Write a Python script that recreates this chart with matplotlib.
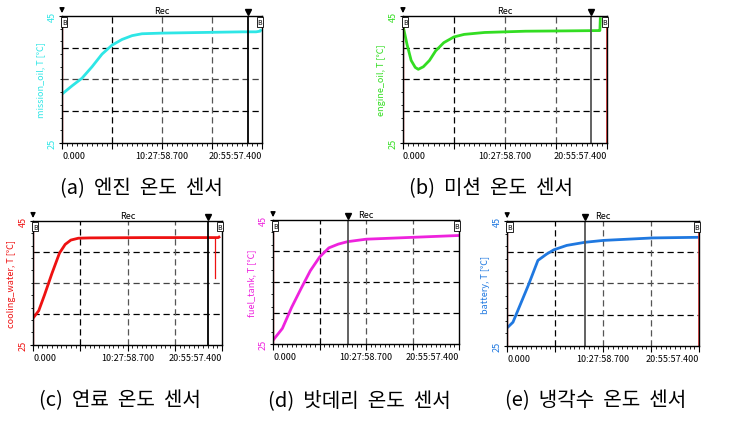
import matplotlib.pyplot as plt
from matplotlib.ticker import FixedLocator, FuncFormatter, AutoMinorLocator

plt.rcParams['font.family'] = ['Noto Sans CJK KR', 'DejaVu Sans']

# 전체 기록 시간 (초) : 20:55:57.400
T_END = 75357.4

# 센서 데이터 (시간: 시간 단위, 온도: 섭씨)
t_mission = [0, 1.05, 2.09, 3.14, 4.19, 5.23, 6.28, 7.33, 8.37, 10.47, 14.65, 18.84, 20.30, 20.72, 20.85]
T_mission = [32.7, 34.0, 35.2, 37.0, 39.0, 40.4, 41.3, 41.9, 42.2, 42.3, 42.4, 42.5, 42.5, 42.6, 42.9]

t_engine = [0, 0.42, 0.84, 1.26, 1.57, 2.09, 2.72, 3.35, 4.19, 5.23, 6.28, 8.37, 12.56, 16.74, 20.09, 20.20, 20.25]
T_engine = [43.5, 40.5, 38.0, 36.9, 36.6, 37.0, 38.0, 39.5, 40.8, 41.7, 42.1, 42.4, 42.6, 42.65, 42.7, 42.7, 44.8]

t_cooling = [0, 0.63, 1.26, 2.09, 2.93, 3.56, 4.19, 5.02, 6.28, 12.56, 20.09, 20.51, 20.72]
T_cooling = [29.3, 30.5, 33.0, 36.5, 39.8, 41.2, 41.9, 42.2, 42.25, 42.3, 42.3, 42.3, 42.5]
t_cooling_dip = [20.15, 20.15]
T_cooling_dip = [42.3, 35.7]

t_fuel = [0, 1.05, 2.09, 3.14, 4.19, 5.23, 6.28, 7.33, 8.37, 10.47, 15.70, 20.93]
T_fuel = [25.6, 27.5, 30.9, 33.9, 36.8, 39.0, 40.5, 41.1, 41.5, 41.9, 42.2, 42.5]

t_battery = [0, 0.63, 2.30, 3.35, 4.29, 5.09, 6.49, 8.48, 10.47, 15.91, 20.93]
T_battery = [27.9, 28.8, 34.7, 38.7, 39.7, 40.4, 41.1, 41.6, 41.9, 42.3, 42.4]

names = ['mission_oil, T [℃]', 'engine_oil, T [℃]', 'cooling_water, T [℃]', 'fuel_tank, T [℃]', 'battery, T [℃]']
colors = ['#2ee6e6', '#33dd22', '#ee1111', '#ee22dd', '#1f78e0']
captions = ['(a)  엔진  온도  센서', '(b)  미션  온도  센서', '(c)  연료  온도  센서',
            '(d)  밧데리  온도  센서', '(e)  냉각수  온도  센서']
cursor_pos = [0.93, 0.92, 0.924, 0.404, 0.405]
cursor_col = ['black', '#555555', 'black', '#555555', '#555555']

series = [(t_mission, T_mission), (t_engine, T_engine), (t_cooling, T_cooling),
          (t_fuel, T_fuel), (t_battery, T_battery)]

# [left, bottom, width, height]
boxes = [[0.0845, 0.669, 0.2725, 0.292],
         [0.549, 0.669, 0.278, 0.292],
         [0.045, 0.205, 0.2575, 0.285],
         [0.372, 0.207, 0.2534, 0.285],
         [0.691, 0.2025, 0.2616, 0.287]]
cap_xy = [(0.193, 0.566), (0.669, 0.566), (0.163, 0.08), (0.489, 0.08), (0.811, 0.08)]


def fmt_time(s, pos):
    if s < 1:
        return '0.000'
    h = int(s // 3600)
    m = int((s % 3600) // 60)
    sec = s - h * 3600 - m * 60
    return f'{h}:{m:02d}:{sec:06.3f}'


fig = plt.figure(figsize=(7.34, 4.35), dpi=100)

for i in range(5):
    ax = fig.add_axes(boxes[i])
    t, v = series[i]
    ax.plot([x * 3600 for x in t], v, color=colors[i], lw=2.0, solid_capstyle='butt')
    if i == 2:
        ax.plot([x * 3600 for x in t_cooling_dip], T_cooling_dip, color=colors[i], lw=0.9)
    ax.set_xlim(0, T_END)
    ax.set_ylim(25, 45)

    # 격자선
    for k, y in enumerate([30, 35, 40]):
        ax.axhline(y, color='black' if k != 1 or i % 2 else '#444444', lw=0.9, ls=(0, (5, 3)), zorder=0)
    for k, f in enumerate([0.25, 0.5, 0.75]):
        ax.axvline(f * T_END, color='black' if k == 0 else '#555555', lw=0.9, ls=(0, (5, 3)), zorder=0)

    # 커서
    cx = cursor_pos[i] * T_END
    ax.axvline(cx, color=cursor_col[i], lw=1.3)
    ax.plot([cx], [45.6], marker='v', color='black', ms=5, clip_on=False)
    ax.axvline(0, color='#ee3333', lw=1.0)
    if i in (1, 4):
        ax.axvline(T_END, color='#ee3333', lw=1.2)

    # 축 설정
    ax.xaxis.set_major_locator(FixedLocator([0, 0.25 * T_END, 0.5 * T_END, 0.75 * T_END, T_END]))
    ax.xaxis.set_major_formatter(FuncFormatter(lambda s, p: '' if p in (1, 3) else fmt_time(s, p)))
    ax.xaxis.set_minor_locator(AutoMinorLocator(10))
    ax.tick_params(axis='x', which='major', length=4, labelsize=6.5, pad=2)
    ax.tick_params(axis='x', which='minor', length=2)
    labs = ax.get_xticklabels()
    labs[0].set_ha('left')
    labs[-1].set_ha('right')

    ax.set_yticks([25, 45])
    ax.set_yticklabels(['25', '45'], rotation=90, va='center', color=colors[i], fontsize=6.5)
    ax.yaxis.set_minor_locator(AutoMinorLocator(10))
    ax.tick_params(axis='y', which='major', length=2, pad=2)
    ax.tick_params(axis='y', which='minor', length=1.5)
    ax.set_ylabel(names[i], color=colors[i], fontsize=6.5, labelpad=2)

    ax.set_title('Rec', fontsize=6.5, pad=2)
    for sp in ax.spines.values():
        sp.set_linewidth(1.0)

    # 모서리 표시
    ax.text(0.0, 0.985, 'B', transform=ax.transAxes, fontsize=5, ha='left', va='top',
            bbox=dict(boxstyle='square,pad=0.1', fc='white', ec='black', lw=0.6))
    ax.text(1.0, 0.985, 'B', transform=ax.transAxes, fontsize=5, ha='right', va='top',
            bbox=dict(boxstyle='square,pad=0.1', fc='white', ec='black', lw=0.6))
    ax.annotate('', xy=(0, 1.0), xytext=(0, 1.08), xycoords='axes fraction',
                arrowprops=dict(arrowstyle='-|>', color='black', lw=1.0, mutation_scale=7))

    fig.text(cap_xy[i][0], cap_xy[i][1], captions[i], ha='center', va='center', fontsize=14.5)

plt.savefig('out.png', dpi=100)
